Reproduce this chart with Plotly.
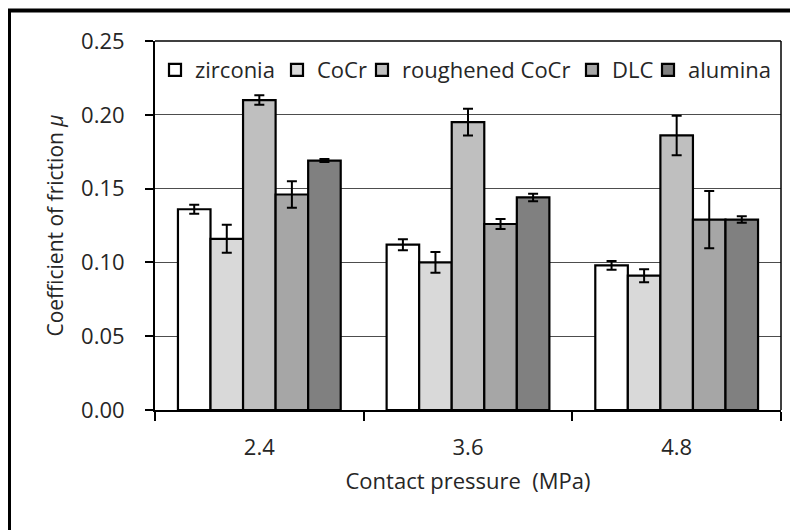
import plotly.graph_objects as go

categories = ["2.4", "3.6", "4.8"]
series_names = ["zirconia", "CoCr", "roughened CoCr", "DLC", "alumina"]
zirconia = [0.136, 0.112, 0.098]
cocr = [0.116, 0.100, 0.091]
roughened_cocr = [0.210, 0.195, 0.186]
dlc = [0.146, 0.126, 0.129]
alumina = [0.169, 0.144, 0.129]
zirconia_err = [0.003, 0.0037, 0.003]
cocr_err = [0.0095, 0.007, 0.0044]
roughened_cocr_err = [0.0032, 0.0091, 0.0134]
dlc_err = [0.0089, 0.0034, 0.0194]
alumina_err = [0.001, 0.0025, 0.0022]
y_ticks = [0.00, 0.05, 0.10, 0.15, 0.20, 0.25]

values = [zirconia, cocr, roughened_cocr, dlc, alumina]
errors = [zirconia_err, cocr_err, roughened_cocr_err, dlc_err, alumina_err]
colors = ["#ffffff", "#d9d9d9", "#bfbfbf", "#a6a6a6", "#808080"]

FONT = "Open Sans"
FS = 22
TXT = "#262626"

# page body has an 8px margin, so figure coordinates = screen - 8
OFF = 8
W, H = 790, 522
L, R, T, B = 155 - OFF, 17, 41 - OFF, 120
pw, ph = W - L - R, H - T - B

def px(x):
    return (x - OFF - L) / pw

def py(y):
    return (H - B - (y - OFF)) / ph

legend_ids = ["legend", "legend2", "legend3", "legend4", "legend5"]
legend_x = [155, 277, 362, 572, 648]

fig = go.Figure()
for name, v, e, c, lid in zip(series_names, values, errors, colors, legend_ids):
    fig.add_trace(go.Bar(
        name=name, x=categories, y=v, legend=lid,
        marker=dict(color=c, line=dict(color="black", width=2.2)),
        error_y=dict(type="data", array=e, visible=True, color="black",
                     thickness=2, width=5),
    ))

legend_layouts = {}
for lid, lx in zip(legend_ids, legend_x):
    legend_layouts[lid] = dict(
        orientation="h", x=px(lx), y=py(49), xanchor="left", yanchor="top",
        bgcolor="rgba(0,0,0,0)", font=dict(family=FONT, size=FS, color=TXT),
        itemwidth=30)

fig.update_layout(
    width=W, height=H,
    margin=dict(l=L, r=R, t=T, b=B, pad=0),
    paper_bgcolor="white", plot_bgcolor="white",
    barmode="group", bargap=0.22, bargroupgap=0,
    font=dict(family=FONT, size=FS, color=TXT),
    showlegend=True,
    **legend_layouts,
    xaxis=dict(
        type="category", showline=True, linecolor="black", linewidth=2,
        mirror=False, ticks="outside", tickson="boundaries", ticklen=9,
        tickwidth=2, tickcolor="black", showgrid=False, ticklabelstandoff=17,
        title=dict(text="Contact pressure  (MPa)", standoff=13,
                   font=dict(family=FONT, size=FS, color=TXT)),
        tickfont=dict(family=FONT, size=FS, color=TXT),
    ),
    yaxis=dict(
        range=[0, 0.25], tickvals=y_ticks, tickformat=".2f",
        showline=True, linecolor="black", linewidth=2, mirror=False,
        ticks="outside", ticklen=8, tickwidth=2, tickcolor="black",
        showgrid=True, gridcolor="#4d4d4d", gridwidth=1.2, zeroline=False,
        ticklabelstandoff=16,
        title=dict(text="Coefficient of friction <i>μ</i>", standoff=12,
                   font=dict(family=FONT, size=21, color=TXT)),
        tickfont=dict(family=FONT, size=FS, color=TXT),
    ),
)

# plot area border (top and right)
fig.add_shape(type="line", xref="paper", yref="paper", x0=0, x1=1, y0=1, y1=1,
              line=dict(color="black", width=1.5))
fig.add_shape(type="line", xref="paper", yref="paper", x0=1, x1=1, y0=0, y1=1,
              line=dict(color="black", width=1.5))
# outer frame
fig.add_shape(type="rect", xref="paper", yref="paper",
              x0=px(9), x1=px(830), y0=py(560), y1=py(10.5),
              line=dict(color="black", width=4), layer="above")

fig.write_html("out.html")
